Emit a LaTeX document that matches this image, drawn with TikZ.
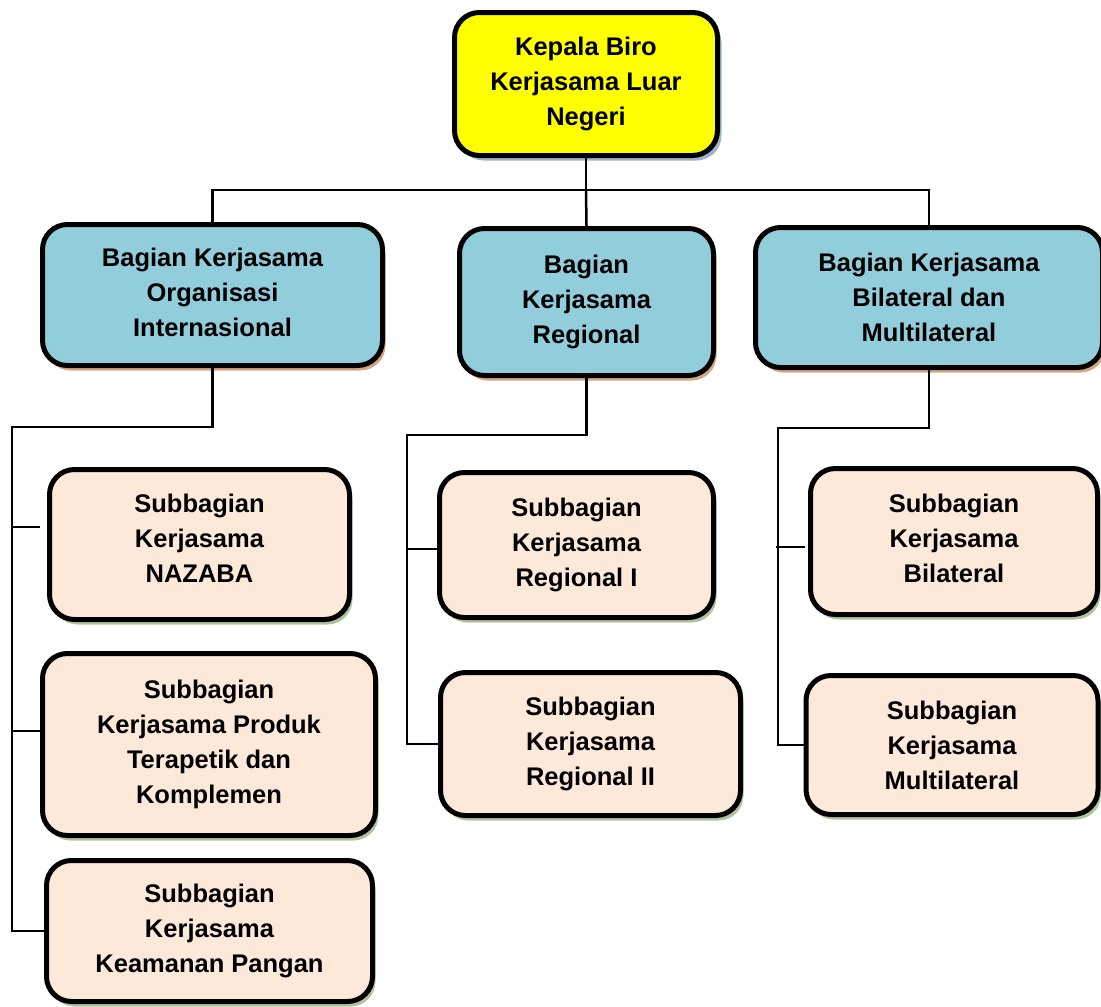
\documentclass[tikz,border=0pt]{standalone}
\usepackage{fontspec}
\setmainfont{Liberation Sans}
\usetikzlibrary{shadows}
\definecolor{headY}{HTML}{FFFF00}
\definecolor{headSh}{HTML}{9FB3C8}
\definecolor{bagB}{HTML}{92CDDC}
\definecolor{bagSh}{HTML}{D6A684}
\definecolor{subP}{HTML}{FDE9D9}
\definecolor{subSh}{HTML}{B3C29E}
\tikzset{
  box/.style={draw=black, line width=5pt, rounded corners=25pt, align=center,
    font=\fontsize{25.5}{35}\selectfont\bfseries, inner sep=0pt},
  headbox/.style={box, fill=headY, drop shadow={shadow xshift=4pt, shadow yshift=-5pt, fill=headSh, opacity=1}},
  bagbox/.style={box, fill=bagB, drop shadow={shadow xshift=3pt, shadow yshift=-5pt, fill=bagSh, opacity=1}},
  subbox/.style={box, fill=subP, drop shadow={shadow xshift=3pt, shadow yshift=-5pt, fill=subSh, opacity=1}},
  conn/.style={draw=black, line width=2.5pt}
}
\begin{document}
\begin{tikzpicture}[x=1pt, y=-1pt]
\useasboundingbox (0,0) rectangle (1101,1007);
% nodes
\node[headbox, minimum width=263pt, minimum height=143pt] (top) at (586,84) {Kepala Biro\\Kerjasama Luar\\Negeri};
\node[bagbox, minimum width=340pt, minimum height=141pt, text depth=5pt] (oi) at (212.5,295) {Bagian Kerjasama\\Organisasi\\Internasional};
\node[bagbox, minimum width=254pt, minimum height=147pt] (reg) at (586.5,302) {Bagian\\Kerjasama\\Regional};
\node[bagbox, minimum width=347pt, minimum height=140pt] (bil) at (929,297.5) {Bagian Kerjasama\\Bilateral dan\\Multilateral};
\node[subbox, minimum width=300pt, minimum height=150pt, text depth=12pt] (naz) at (199.5,544.5) {Subbagian\\Kerjasama\\NAZABA};
\node[subbox, minimum width=333pt, minimum height=182pt] (prod) at (209,744.5) {Subbagian\\Kerjasama Produk\\Terapetik dan\\Komplemen};
\node[subbox, minimum width=326pt, minimum height=141pt] (kea) at (209.5,931) {Subbagian\\Kerjasama\\Keamanan Pangan};
\node[subbox, minimum width=274pt, minimum height=145pt] (r1) at (576.5,545) {Subbagian\\Kerjasama\\Regional I};
\node[subbox, minimum width=300pt, minimum height=143pt] (r2) at (590.5,744) {Subbagian\\Kerjasama\\Regional II};
\node[subbox, minimum width=287pt, minimum height=146pt, text depth=6pt] (bsub) at (954,541.5) {Subbagian\\Kerjasama\\Bilateral};
\node[subbox, minimum width=292pt, minimum height=139pt] (msub) at (952,745) {Subbagian\\Kerjasama\\Multilateral};
% connectors
\coordinate (bus) at (586,190);
\draw[conn] (top.south) -- (bus);
\draw[conn] (oi.north) |- (bus) -| (bil.north);
\draw[conn] (bus) -- (reg.north);
% OI branch
\coordinate (oiL) at (12,427);
\draw[conn] (oi.south) |- (oiL) |- (kea.west);
\coordinate (s1) at (12,527);
\draw[conn, shorten >=7pt] (s1) -- (s1 -| naz.west);
\coordinate (s2) at (12,731);
\draw[conn] (s2) -- (s2 -| prod.west);
% Regional branch
\coordinate (regL) at (407,435);
\draw[conn] (reg.south) |- (regL) |- (r2.west);
\coordinate (s3) at (407,549);
\draw[conn] (s3) -- (s3 -| r1.west);
% Bilateral branch
\coordinate (bilL) at (778,428);
\draw[conn] (bil.south) |- (bilL) |- (msub.west);
\coordinate (s4) at (776,547);
\draw[conn, shorten >=3pt] (s4) -- (s4 -| bsub.west);
\end{tikzpicture}
\end{document}
